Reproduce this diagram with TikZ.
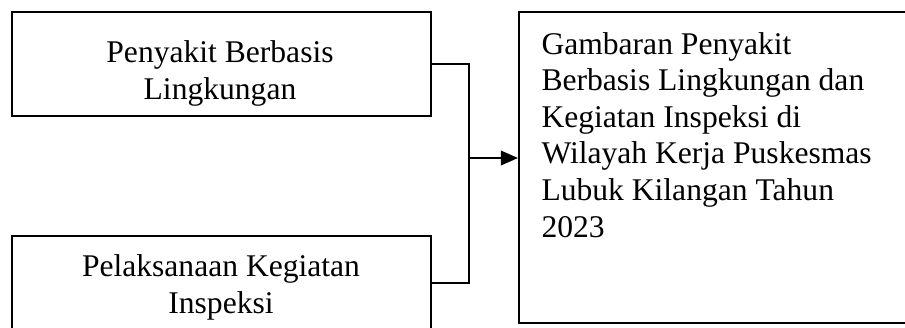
\documentclass[tikz,border=0pt]{standalone}
\usepackage{fontspec}
\setmainfont{Liberation Serif}
\usetikzlibrary{arrows.meta}

\begin{document}
\begin{tikzpicture}[x=0.38pt, y=-0.38pt,
  frame/.style={draw, line width=0.75pt, inner sep=0pt},
  caption/.style={font=\fontsize{12pt}{13.9pt}\selectfont, inner sep=0pt},
  link/.style={line width=0.75pt},
  flow/.style={line width=0.75pt, -{Triangle[length=6.5pt, width=5.5pt]}}]

\newcommand{\pxunit}{0.38pt}

\useasboundingbox (0,0) rectangle (905,327);
\clip (0,0) rectangle (905,327);

% left boxes
\node[frame, minimum width={419*\pxunit}, minimum height={104*\pxunit}] (disease) at (221.5,64) {};
\node[frame, minimum width={419*\pxunit}, minimum height={94*\pxunit}] (inspection) at (221.5,283) {};
\node[caption, align=center, anchor=base] (diseasetext) at (220,99) {Penyakit Berbasis\\Lingkungan};
\node[caption, align=center, anchor=base] (inspectiontext) at (221,313) {Pelaksanaan Kegiatan\\Inspeksi};

% result box
\node[frame, minimum width={406*\pxunit}, minimum height={311*\pxunit}] (result) at (722,167.5) {};
\node[caption, align=left, anchor=base west] (resulttext) at (541,237)
  {Gambaran Penyakit\\Berbasis Lingkungan dan\\Kegiatan Inspeksi di\\Wilayah Kerja Puskesmas\\Lubuk Kilangan Tahun\\2023};

% connectors
\coordinate (merge) at (469,158);
\draw[link] (disease.east) -| (merge) |- (inspection.east);
\draw[flow] (merge) -- (merge -| result.west);

\end{tikzpicture}
\end{document}
